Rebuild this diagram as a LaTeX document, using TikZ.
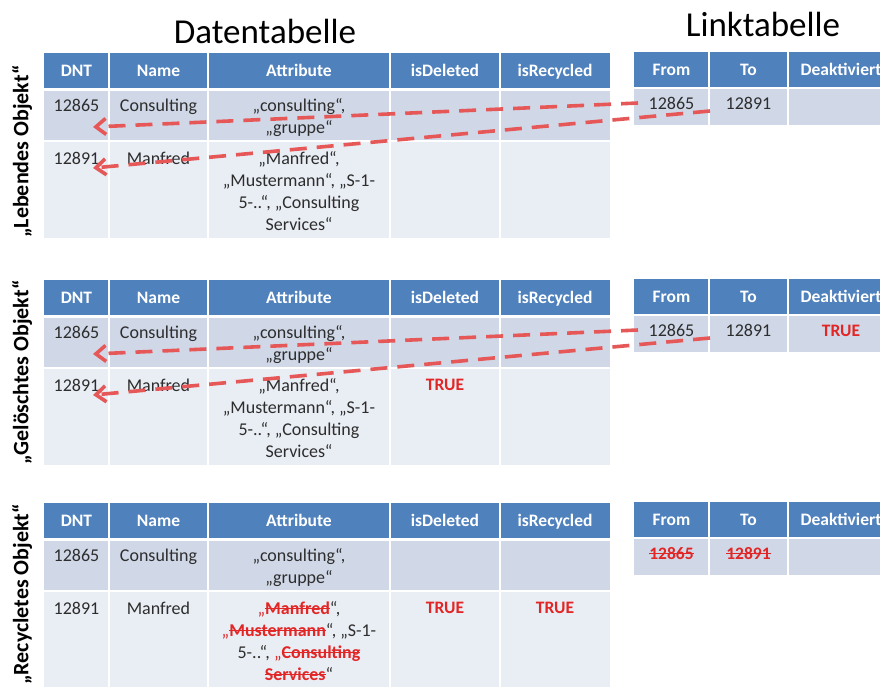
\documentclass[tikz,border=0pt]{standalone}
\usepackage{fontspec}
\setmainfont{Carlito}
\usetikzlibrary{arrows.meta}
\definecolor{hdr}{RGB}{79,129,189}
\definecolor{rowa}{RGB}{208,216,232}
\definecolor{rowb}{RGB}{233,237,244}
\definecolor{txt}{RGB}{45,45,45}
\definecolor{tred}{RGB}{226,38,38}
\definecolor{arr}{RGB}{230,88,88}
\newsavebox\skbox
\newcommand\strk[1]{\sbox\skbox{#1}\rlap{\rule[0.27em]{\wd\skbox}{1.6pt}}\usebox\skbox}
\newcommand\dkill[1]{{\color{tred}\bfseries\strk{#1}}}
\newcommand\rquo{{\color{tred}„}}
\tikzset{
 hd/.style={font=\fontsize{17.5}{21}\selectfont\bfseries, text=white, anchor=base, inner sep=0pt},
 cell/.style={font=\fontsize{18}{22}\selectfont, text=txt, anchor=base, inner sep=0pt},
 tru/.style={font=\fontsize{17.5}{21}\selectfont\bfseries, text=tred, anchor=base, inner sep=0pt},
 side/.style={font=\fontsize{22}{26}\selectfont\bfseries, text=black, rotate=90, anchor=west, inner sep=0pt},
 ttl/.style={font=\fontsize{35}{40}\selectfont, text=black, anchor=base, inner sep=0pt},
 lnk/.style={draw=arr, line width=3.6pt, dash pattern=on 17pt off 10pt, -{Straight Barb[length=10pt,width=16pt]}},
 sep/.style={draw=white, line width=2pt}
}
\newcommand\DataTable[2]{%
\begin{scope}[shift={(0,#1)}]
\fill[hdr] (44,53) rectangle (610,88);
\fill[rowa] (44,91) rectangle (610,141);
\fill[rowb] (44,141) rectangle (610,238);
\draw[sep] (44,141) -- (610,141);
\foreach \x in {109,208,390,500} \draw[sep] (\x,53) -- (\x,238);
\node[hd] (#2h1) at (76.5,76) {DNT};
\node[hd] (#2h2) at (158.5,76) {Name};
\node[hd] (#2h3) at (299,76) {Attribute};
\node[hd] (#2h4) at (445,76) {isDeleted};
\node[hd] (#2h5) at (555,76) {isRecycled};
\node[cell] (#2r1c1) at (76.5,111) {12865};
\node[cell] (#2r1c2) at (158.5,111) {Consulting};
\node[cell] (#2r1c3a) at (299,111) {„consulting“,};
\node[cell] (#2r1c3b) at (299,133) {„gruppe“};
\node[cell] (#2r2c1) at (76.5,164) {12891};
\node[cell] (#2r2c2) at (158.5,164) {Manfred};
\end{scope}}
\newcommand\LinkTable[2]{%
\begin{scope}[shift={(0,#1)}]
\fill[hdr] (634,52) rectangle (900,87);
\fill[rowa] (634,89) rectangle (900,125);
\foreach \x in {709,788} \draw[sep] (\x,52) -- (\x,125);
\node[hd] (#2f) at (671.5,75) {From};
\node[hd] (#2t) at (748.5,75) {To};
\node[hd] (#2d) at (841,75) {Deaktiviert};
\end{scope}}
\begin{document}
\begin{tikzpicture}[x=1pt,y=-1pt]
\useasboundingbox (0,0) rectangle (880,686);
\clip (0,0) rectangle (880,686);
\fill[white] (0,0) rectangle (880,686);
% titles
\node[ttl] (tdata) at (265,43) {Datentabelle};
\node[ttl] (tlink) at (763,36) {Linktabelle};
% side labels
\node[side] (lab1) at (22,238) {„Lebendes Objekt“};
\node[side] (lab2) at (22,465) {„Gelöschtes Objekt“};
\node[side] (lab3) at (22,685) {„Recycletes Objekt“};
% tables
\DataTable{0}{a}
\DataTable{227}{b}
\DataTable{450}{c}
\LinkTable{0}{la}
\LinkTable{227}{lb}
\LinkTable{450}{lc}
% table 1 row 2 attribute
\node[cell] (ar2a) at (299,164) {„Manfred“,};
\node[cell] (ar2b) at (299,186) {„Mustermann“, „S-1-};
\node[cell] (ar2c) at (299,208) {5-..“, „Consulting};
\node[cell] (ar2d) at (299,230) {Services“};
% table 2 row 2 attribute
\node[cell] (br2a) at (299,391) {„Manfred“,};
\node[cell] (br2b) at (299,413) {„Mustermann“, „S-1-};
\node[cell] (br2c) at (299,435) {5-..“, „Consulting};
\node[cell] (br2d) at (299,457) {Services“};
\node[tru] (btrue) at (445,390) {TRUE};
% table 3 row 2 attribute
\node[cell] (cr2a) at (299,614) {\rquo\dkill{Manfred}“,};
\node[cell] (cr2b) at (299,636) {\rquo\dkill{Mustermann}“, „S-1-};
\node[cell] (cr2c) at (299,658) {5-..“, \rquo\dkill{Consulting}};
\node[cell] (cr2d) at (299,680) {\dkill{Services}“};
\node[tru] (ctrue1) at (445,613) {TRUE};
\node[tru] (ctrue2) at (555,613) {TRUE};
% link rows
\node[cell] (la1) at (671.5,109) {12865};
\node[cell] (la2) at (748.5,109) {12891};
\node[cell] (lb1) at (671.5,336) {12865};
\node[cell] (lb2) at (748.5,336) {12891};
\node[tru] (lbtrue) at (841,336) {TRUE};
\node[tru] (lc1) at (671.5,559) {\strk{12865}};
\node[tru] (lc2) at (748.5,559) {\strk{12891}};
% arrows
\coordinate (sa1) at (638,103);
\coordinate (ea1) at (93,127);
\coordinate (sa2) at (710,111);
\coordinate (ea2) at (93,168);
\coordinate (sb1) at (638,330);
\coordinate (eb1) at (93,354);
\coordinate (sb2) at (710,338);
\coordinate (eb2) at (93,395);
\draw[lnk] (sa1) -- (ea1);
\draw[lnk] (sa2) -- (ea2);
\draw[lnk] (sb1) -- (eb1);
\draw[lnk] (sb2) -- (eb2);
\end{tikzpicture}
\end{document}
